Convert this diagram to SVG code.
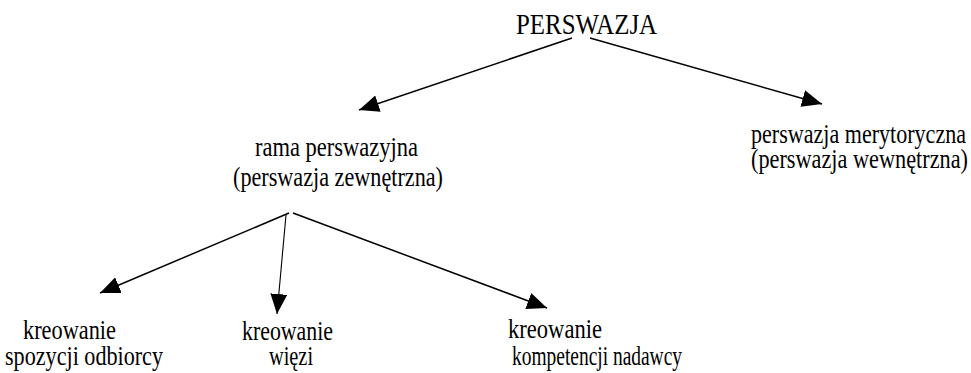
<svg xmlns="http://www.w3.org/2000/svg" width="971" height="373" viewBox="0 0 971 373">
<style>
  text { font-family: "Liberation Serif", "Times New Roman", serif; font-size: 27px; fill: #000; }
  .title { font-size: 30px; }
  .conn { stroke: #000; stroke-width: 1.5; fill: none; }
  .thin { stroke-width: 1.1; }
</style>
<defs>
  <marker id="arrow" markerUnits="userSpaceOnUse" markerWidth="21" markerHeight="17" refX="20" refY="8.5" orient="auto">
    <path d="M0,0 L20,8.5 L0,17 Z" fill="#000"/>
  </marker>
</defs>
<rect width="971" height="373" fill="#fff"/>
<g id="connectors">
  <line class="conn" x1="572" y1="38" x2="359" y2="110" marker-end="url(#arrow)"/>
  <line class="conn" x1="590" y1="38" x2="822" y2="104" marker-end="url(#arrow)"/>
  <line class="conn" x1="289" y1="213" x2="100" y2="293" marker-end="url(#arrow)"/>
  <line class="conn thin" x1="286" y1="215" x2="277" y2="314" marker-end="url(#arrow)"/>
  <line class="conn" x1="293" y1="213" x2="547" y2="308" marker-end="url(#arrow)"/>
</g>
<g id="node-perswazja">
  <text class="title" transform="translate(516,34) scale(0.82,1)" textLength="172" lengthAdjust="spacingAndGlyphs">PERSWAZJA</text>
</g>
<g id="node-rama">
  <text transform="translate(255,156) scale(0.82,1)" textLength="198.8" lengthAdjust="spacingAndGlyphs">rama perswazyjna</text>
  <text transform="translate(233,186) scale(0.82,1)" textLength="256.1" lengthAdjust="spacingAndGlyphs">(perswazja zewnętrzna)</text>
</g>
<g id="node-merytoryczna">
  <text transform="translate(751,143) scale(0.82,1)" textLength="262.2" lengthAdjust="spacingAndGlyphs">perswazja merytoryczna</text>
  <text transform="translate(751,168) scale(0.82,1)" textLength="264.6" lengthAdjust="spacingAndGlyphs">(perswazja wewnętrzna)</text>
</g>
<g id="node-dyspozycji">
  <text transform="translate(23,339) scale(0.82,1)" textLength="113.4" lengthAdjust="spacingAndGlyphs">kreowanie</text>
  <text transform="translate(5,365) scale(0.82,1)" textLength="192.7" lengthAdjust="spacingAndGlyphs">spozycji odbiorcy</text>
</g>
<g id="node-wiezi">
  <text transform="translate(242,340) scale(0.82,1)" textLength="111" lengthAdjust="spacingAndGlyphs">kreowanie</text>
  <text transform="translate(269,365) scale(0.82,1)" textLength="53.7" lengthAdjust="spacingAndGlyphs">więzi</text>
</g>
<g id="node-kompetencji">
  <text transform="translate(508,338) scale(0.82,1)" textLength="114.6" lengthAdjust="spacingAndGlyphs">kreowanie</text>
  <text transform="translate(512,365) scale(0.82,1)" textLength="207.3" lengthAdjust="spacingAndGlyphs">kompetencji nadawcy</text>
</g>
</svg>
